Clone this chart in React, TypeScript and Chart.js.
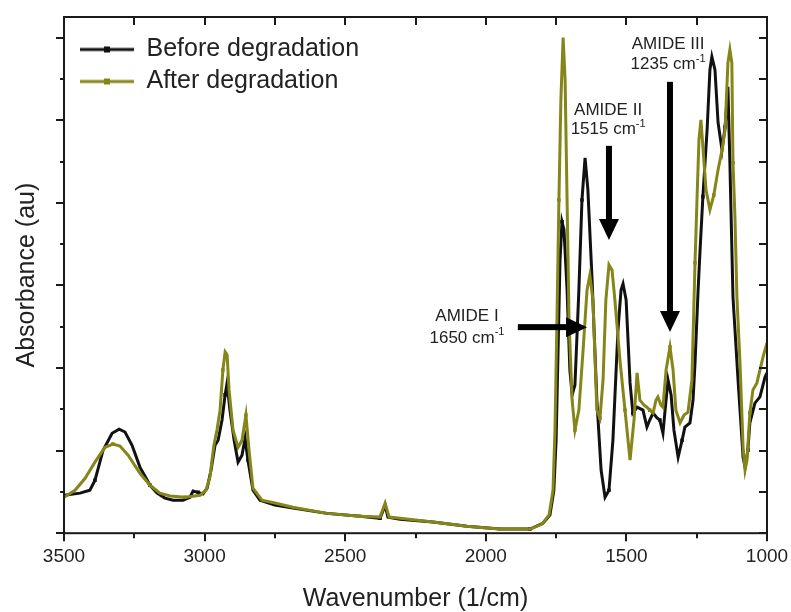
import { useEffect, useRef } from 'react';
import { Chart, registerables } from 'chart.js';

Chart.register(...registerables);

// ---- data ----
const beforeWavenumber = [
  3500, 3443, 3408, 3390, 3361, 3329, 3304, 3283, 3258, 3230,
  3194, 3169, 3141, 3112, 3077, 3052, 3041, 3023, 3006, 2991,
  2977, 2963, 2952, 2938, 2927, 2920, 2910, 2895, 2881, 2867,
  2856, 2846, 2828, 2803, 2750, 2686, 2565, 2447, 2376, 2358,
  2348, 2305, 2188, 2067, 1950, 1843, 1797, 1772, 1758, 1750,
  1743, 1736, 1729, 1722, 1711, 1701, 1693, 1683, 1669, 1658,
  1647, 1637, 1622, 1605, 1590, 1576, 1562, 1548, 1530, 1519,
  1512, 1501, 1487, 1477, 1462, 1441, 1427, 1417, 1405, 1391,
  1381, 1370, 1359, 1352, 1341, 1331, 1316, 1302, 1292, 1274,
  1263, 1256, 1245, 1238, 1228, 1213, 1203, 1196, 1185, 1174,
  1160, 1149, 1139, 1132, 1121, 1103, 1085, 1078, 1068, 1061,
  1043, 1025, 1007, 1000,
];
const beforeAbsorbance = [
  0.92, 0.97, 1.04, 1.28, 2.01, 2.42, 2.52, 2.45, 2.13, 1.6,
  1.16, 0.97, 0.85, 0.8, 0.8, 0.87, 1.02, 0.99, 0.95, 1.09,
  1.53, 2.13, 2.25, 2.74, 3.35, 3.64, 2.98, 2.25, 1.72, 1.89,
  2.3, 1.77, 1.04, 0.8, 0.68, 0.61, 0.48, 0.41, 0.36, 0.68,
  0.39, 0.34, 0.27, 0.17, 0.1, 0.1, 0.24, 0.44, 1.04, 2.25,
  4.44, 6.62, 7.54, 7.35, 5.89, 3.95, 3.35, 3.59, 5.89, 8.07,
  9.09, 8.32, 6.13, 3.22, 1.53, 0.87, 1.04, 2.25, 4.92, 5.89,
  6.04, 5.65, 3.64, 2.91, 3.05, 2.98, 2.57, 2.74, 2.91, 2.79,
  2.74, 2.42, 3.22, 3.71, 3.35, 2.5, 1.84, 2.25, 2.57, 2.67,
  3.22, 4.12, 5.89, 6.86, 8.15, 9.77, 11.22, 11.54, 11.22, 9.94,
  9.28, 9.84, 10.81, 8.97, 5.72, 3.71, 1.84, 1.6, 2.01, 2.67,
  3.15, 3.3, 3.78, 3.88,
];
const afterWavenumber = [
  3500, 3461, 3425, 3390, 3354, 3326, 3301, 3272, 3230, 3194,
  3159, 3123, 3070, 3016, 2995, 2981, 2967, 2956, 2945, 2935,
  2927, 2920, 2913, 2899, 2881, 2867, 2853, 2842, 2828, 2796,
  2750, 2686, 2565, 2447, 2376, 2358, 2344, 2305, 2188, 2067,
  1950, 1843, 1800, 1775, 1761, 1754, 1747, 1740, 1733, 1725,
  1718, 1711, 1704, 1693, 1683, 1669, 1654, 1640, 1630, 1619,
  1605, 1594, 1583, 1573, 1562, 1551, 1541, 1523, 1505, 1487,
  1473, 1462, 1452, 1437, 1427, 1417, 1405, 1395, 1388, 1377,
  1370, 1359, 1345, 1334, 1324, 1309, 1295, 1281, 1267, 1256,
  1249, 1242, 1235, 1228, 1217, 1203, 1189, 1174, 1160, 1149,
  1139, 1132, 1125, 1121, 1114, 1107, 1096, 1085, 1078, 1071,
  1061, 1050, 1036, 1014, 1000,
];
const afterAbsorbance = [
  0.87, 1.04, 1.33, 1.72, 2.08, 2.16, 2.11, 1.89, 1.45, 1.16,
  0.97, 0.9, 0.87, 0.92, 1.04, 1.36, 2.13, 2.5, 2.98, 3.95,
  4.39, 4.32, 3.47, 2.5, 2.08, 2.25, 2.86, 2.01, 1.09, 0.8,
  0.73, 0.63, 0.48, 0.41, 0.39, 0.73, 0.39, 0.36, 0.27, 0.17,
  0.1, 0.1, 0.22, 0.44, 1.04, 2.5, 5.16, 8.07, 10.5, 12.0,
  10.98, 8.07, 5.16, 3.22, 2.5, 2.98, 4.44, 5.89, 6.25, 5.65,
  2.98, 2.79, 3.71, 5.65, 6.5, 6.37, 5.65, 4.19, 2.98, 1.77,
  2.74, 3.88, 3.22, 3.1, 3.05, 2.98, 2.91, 3.22, 3.3, 3.1,
  3.05, 3.95, 4.51, 3.95, 2.98, 2.67, 2.86, 2.93, 3.71, 6.55,
  8.07, 9.53, 10.01, 9.36, 8.32, 7.83, 8.19, 8.8, 9.28, 9.77,
  11.39, 11.71, 11.39, 8.97, 7.66, 5.72, 4.12, 2.08, 1.53, 1.77,
  2.91, 3.47, 3.64, 4.27, 4.61,
];

const seriesLabels = ['Before degradation', 'After degradation'];
const seriesColors = ['#111111', '#85851a'];

const xMin = 1000;
const xMax = 3500;
const xTickStep = 250;
const xLabelStep = 500;
const yMin = 0;
const yMax = 12.5;
const yTickMax = 12;

const annotationTitles = ['AMIDE I', 'AMIDE II', 'AMIDE III'];
const annotationWavenumbers = ['1650', '1515', '1235'];

// annotation geometry in data coordinates
const annotationGeometry = [
  { tx: 2067, ty1: 5.24, ty2: 4.73, ax1: 1886, ay1: 4.99, ax2: 1640, ay2: 4.99 },
  { tx: 1565, ty1: 10.25, ty2: 9.77, ax1: 1562, ay1: 9.38, ax2: 1562, ay2: 7.1 },
  { tx: 1352, ty1: 11.83, ty2: 11.35, ax1: 1345, ay1: 10.93, ax2: 1345, ay2: 4.87 },
];

const FONT = '"Liberation Sans", Arial, sans-serif';
const TEXT = '#222222';

function legendSwatch(color: string) {
  const c = document.createElement('canvas');
  c.width = 63;
  c.height = 12;
  const g = c.getContext('2d')!;
  g.strokeStyle = color;
  g.lineWidth = 3;
  g.beginPath();
  g.moveTo(9, 6);
  g.lineTo(63, 6);
  g.stroke();
  g.fillStyle = color;
  g.fillRect(33, 3, 6, 6);
  return c;
}

const decorPlugin = {
  id: 'decor',
  afterDraw(chart: any) {
    const { ctx, chartArea: ca, scales } = chart;
    const xs = scales.x;
    const ys = scales.y;
    ctx.save();
    ctx.strokeStyle = '#1a1a1a';
    ctx.lineWidth = 2;
    ctx.strokeRect(ca.left, ca.top, ca.right - ca.left, ca.bottom - ca.top);
    const seg = (x1: number, y1: number, x2: number, y2: number) => {
      ctx.beginPath();
      ctx.moveTo(x1, y1);
      ctx.lineTo(x2, y2);
      ctx.stroke();
    };
    for (let v = xMin; v <= xMax; v += xTickStep) {
      const px = Math.round(xs.getPixelForValue(v));
      const major = v % xLabelStep === 0;
      seg(px, ca.bottom, px, ca.bottom + (major ? 8 : 5));
      seg(px, ca.top, px, ca.top + 8);
    }
    for (let v = yMin; v <= yTickMax; v += 1) {
      const py = Math.round(ys.getPixelForValue(v));
      const major = v % 2 === 0;
      seg(ca.left - (major ? 8 : 4), py, ca.left, py);
      seg(ca.right - 8, py, ca.right, py);
    }

    // annotations
    ctx.fillStyle = TEXT;
    ctx.textBaseline = 'middle';
    annotationGeometry.forEach((g, i) => {
      const tx = xs.getPixelForValue(g.tx);
      ctx.font = `17px ${FONT}`;
      ctx.textAlign = 'center';
      ctx.fillText(annotationTitles[i], tx, ys.getPixelForValue(g.ty1));
      const main = `${annotationWavenumbers[i]} cm`;
      const sup = '-1';
      const mw = ctx.measureText(main).width;
      ctx.font = `11px ${FONT}`;
      const sw = ctx.measureText(sup).width;
      const start = tx - (mw + sw) / 2;
      const y2 = ys.getPixelForValue(g.ty2);
      ctx.textAlign = 'left';
      ctx.font = `17px ${FONT}`;
      ctx.fillText(main, start, y2);
      ctx.font = `11px ${FONT}`;
      ctx.fillText(sup, start + mw, y2 - 6);

      // arrow
      const x1 = xs.getPixelForValue(g.ax1);
      const y1 = ys.getPixelForValue(g.ay1);
      const x2 = xs.getPixelForValue(g.ax2);
      const y2a = ys.getPixelForValue(g.ay2);
      const ang = Math.atan2(y2a - y1, x2 - x1);
      const len = Math.hypot(x2 - x1, y2a - y1);
      ctx.save();
      ctx.translate(x1, y1);
      ctx.rotate(ang);
      ctx.fillStyle = '#000';
      ctx.fillRect(0, -3, len - 18, 6);
      ctx.beginPath();
      ctx.moveTo(len, 0);
      ctx.lineTo(len - 21, -10);
      ctx.lineTo(len - 21, 10);
      ctx.closePath();
      ctx.fill();
      ctx.restore();
    });
    ctx.restore();
  },
};

export default function App() {
  const ref = useRef<HTMLCanvasElement>(null);
  useEffect(() => {
    document.body.style.margin = '0';
    const canvas = ref.current!;
    const mk = (xs: number[], ys: number[]) => xs.map((x, i) => ({ x, y: ys[i] }));
    const chart = new Chart(canvas, {
      type: 'line',
      data: {
        datasets: [
          {
            label: seriesLabels[0],
            data: mk(beforeWavenumber, beforeAbsorbance),
            borderColor: seriesColors[0],
            backgroundColor: seriesColors[0],
            borderWidth: 3,
            pointStyle: 'rect',
            pointRadius: (c: any) => (c.dataIndex % 7 === 3 ? 2.5 : 0),
            pointBorderWidth: 0,
            tension: 0,
            order: 1,
          },
          {
            label: seriesLabels[1],
            data: mk(afterWavenumber, afterAbsorbance),
            borderColor: seriesColors[1],
            backgroundColor: seriesColors[1],
            borderWidth: 3,
            pointStyle: 'rect',
            pointRadius: (c: any) => (c.dataIndex % 7 === 5 ? 2.5 : 0),
            pointBorderWidth: 0,
            tension: 0,
            order: 0,
          },
        ],
      },
      options: {
        responsive: false,
        animation: false,
        events: [],
        layout: { padding: { left: 0, right: 24, top: 17, bottom: 0 } },
        scales: {
          x: {
            type: 'linear',
            reverse: true,
            min: xMin,
            max: xMax,
            grid: {
              display: true,
              drawOnChartArea: false,
              drawTicks: true,
              tickLength: 12,
              color: 'rgba(0,0,0,0)',
              tickColor: 'rgba(0,0,0,0)',
            },
            border: { display: false },
            ticks: {
              stepSize: xTickStep,
              padding: 0,
              color: TEXT,
              font: { family: FONT, size: 19 },
              callback: (v: any) => (Number(v) % xLabelStep === 0 ? String(v) : ''),
              maxRotation: 0,
              autoSkip: false,
            },
            title: {
              display: true,
              text: 'Wavenumber (1/cm)',
              color: TEXT,
              font: { family: FONT, size: 25, lineHeight: 1 },
              padding: { top: 19, bottom: 0 },
            },
          },
          y: {
            type: 'linear',
            min: yMin,
            max: yMax,
            grid: { display: false, drawTicks: false },
            border: { display: false },
            ticks: { display: false },
            title: {
              display: true,
              text: 'Absorbance (au)',
              color: TEXT,
              font: { family: FONT, size: 25, lineHeight: 1 },
              padding: { top: 15, bottom: 24 },
            },
          },
        },
        plugins: {
          tooltip: { enabled: false },
          legend: {
            position: 'chartArea',
            align: 'start',
            title: { display: true, text: ' ', font: { size: 30, lineHeight: 1 }, padding: 0 },
            labels: {
              usePointStyle: true,
              pointStyleWidth: 63,
              padding: 7,
              color: TEXT,
              font: { family: FONT, size: 25 },
              sort: (a: any, b: any) => a.datasetIndex - b.datasetIndex,
              generateLabels: (ch: any) =>
                ch.data.datasets.map((d: any, i: number) => ({
                  text: d.label,
                  datasetIndex: i,
                  pointStyle: legendSwatch(seriesColors[i]),
                  fillStyle: seriesColors[i],
                  strokeStyle: seriesColors[i],
                  lineWidth: 0,
                  hidden: false,
                  fontColor: TEXT,
                })),
            },
          },
        },
      } as any,
      plugins: [decorPlugin],
    });
    return () => chart.destroy();
  }, []);
  return (
    <div style={{ width: 791, height: 612 }}>
      <canvas ref={ref} width={791} height={612} style={{ display: 'block' }} />
    </div>
  );
}
